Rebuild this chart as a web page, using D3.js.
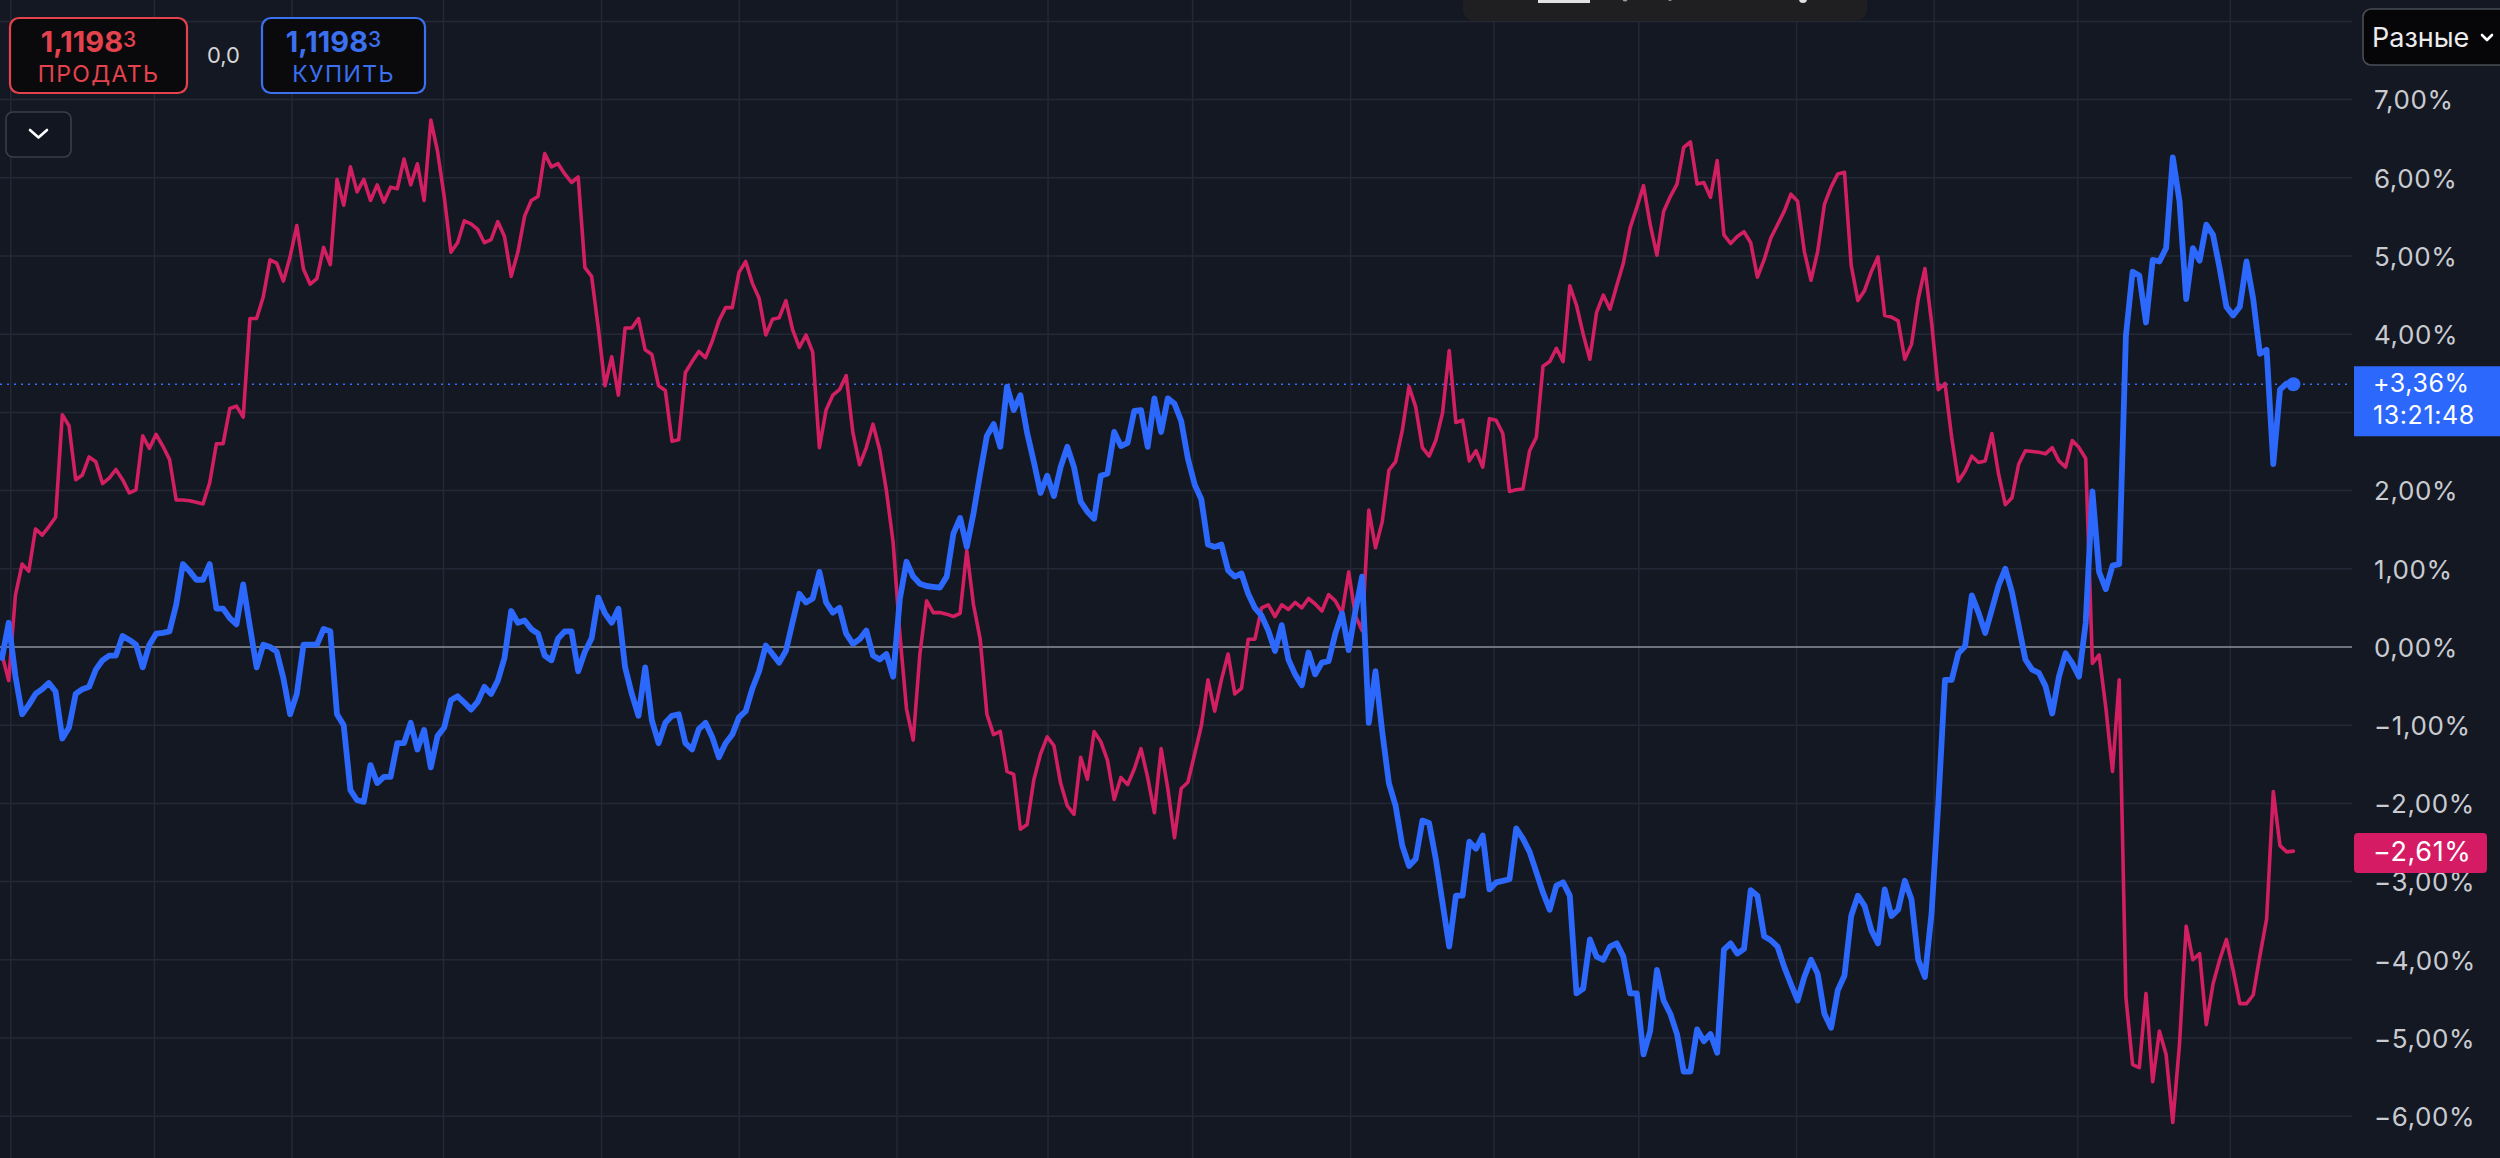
<!DOCTYPE html>
<html><head><meta charset="utf-8">
<script src="https://cdn.jsdelivr.net/npm/d3@7"></script>
<style>
html,body{margin:0;padding:0;background:#141823;overflow:hidden;}
svg{display:block;}
text{font-family:Inter,"Noto Sans",sans-serif;}
</style></head><body>
<svg id="chart" width="2500" height="1158"></svg>
<script>
// ---- data (percent change, same time index for both series) ----
const pinkValues = [
-0.10,-0.43,0.66,1.06,0.97,1.51,1.43,1.54,1.66,2.97,
2.83,2.14,2.20,2.43,2.37,2.09,2.16,2.27,2.14,1.97,
2.01,2.70,2.54,2.72,2.57,2.40,1.88,1.88,1.87,1.85,
1.83,2.10,2.60,2.60,3.05,3.08,2.94,4.20,4.20,4.48,
4.95,4.91,4.68,4.99,5.39,4.83,4.64,4.71,5.11,4.89,
5.98,5.65,6.14,5.82,5.98,5.71,5.91,5.69,5.88,5.86,
6.24,5.91,6.18,5.71,6.74,6.34,5.76,5.05,5.17,5.45,
5.41,5.34,5.17,5.21,5.44,5.25,4.74,5.05,5.51,5.71,
5.76,6.31,6.14,6.18,6.05,5.94,6.01,4.85,4.74,4.08,
3.34,3.71,3.22,4.08,4.08,4.20,3.80,3.74,3.34,3.28,
2.63,2.65,3.51,3.65,3.78,3.70,3.91,4.17,4.34,4.34,
4.79,4.93,4.65,4.46,3.99,4.19,4.21,4.43,4.06,3.83,
3.99,3.77,2.55,3.03,3.22,3.29,3.47,2.74,2.33,2.55,
2.85,2.52,2.00,1.34,0.17,-0.79,-1.19,-0.09,0.59,0.44,
0.44,0.42,0.39,0.43,1.23,0.54,0.10,-0.86,-1.12,-1.08,
-1.59,-1.63,-2.33,-2.27,-1.70,-1.37,-1.15,-1.26,-1.74,-2.03,
-2.14,-1.41,-1.69,-1.08,-1.21,-1.45,-1.95,-1.67,-1.76,-1.56,
-1.30,-1.67,-2.12,-1.30,-1.81,-2.44,-1.81,-1.73,-1.37,-1.01,
-0.42,-0.82,-0.42,-0.09,-0.60,-0.53,0.10,0.10,0.50,0.54,
0.39,0.54,0.48,0.57,0.50,0.62,0.55,0.46,0.67,0.59,
0.43,0.96,0.40,0.21,1.75,1.27,1.60,2.26,2.37,2.77,
3.33,3.07,2.55,2.44,2.64,2.99,3.79,2.87,2.90,2.38,
2.51,2.30,2.92,2.90,2.73,1.99,2.01,2.02,2.51,2.68,
3.59,3.65,3.82,3.65,4.62,4.37,4.00,3.68,4.28,4.50,
4.32,4.62,4.91,5.36,5.62,5.90,5.40,5.01,5.57,5.76,
5.92,6.39,6.46,5.92,5.94,5.75,6.22,5.27,5.16,5.25,
5.31,5.17,4.73,4.95,5.23,5.40,5.57,5.79,5.70,5.06,
4.69,5.06,5.66,5.88,6.05,6.07,4.88,4.43,4.56,4.80,
4.99,4.24,4.22,4.17,3.68,3.87,4.45,4.84,4.15,3.29,
3.37,2.68,2.12,2.25,2.44,2.36,2.38,2.73,2.21,1.82,
1.91,2.34,2.51,2.50,2.49,2.47,2.55,2.38,2.30,2.64,
2.55,2.41,-0.21,-0.10,-0.77,-1.59,-0.42,-4.48,-5.34,-5.38,
-4.43,-5.56,-4.91,-5.21,-6.08,-5.08,-3.57,-4.00,-3.92,-4.83,
-4.31,-4.00,-3.74,-4.13,-4.56,-4.56,-4.45,-3.95,-3.48,-1.85,
-2.54,-2.62,-2.61];

const blueValues = [
-0.14,0.31,-0.37,-0.86,-0.74,-0.60,-0.54,-0.46,-0.57,-1.17,
-1.03,-0.60,-0.54,-0.51,-0.29,-0.17,-0.11,-0.11,0.14,0.09,
0.03,-0.26,0.03,0.17,0.18,0.20,0.54,1.06,0.97,0.86,
0.86,1.06,0.49,0.49,0.37,0.29,0.80,0.26,-0.26,0.03,
0.00,-0.06,-0.40,-0.86,-0.60,0.03,0.03,0.03,0.23,0.20,
-0.86,-1.00,-1.83,-1.96,-1.98,-1.51,-1.74,-1.66,-1.66,-1.23,
-1.23,-0.97,-1.31,-1.06,-1.54,-1.14,-1.03,-0.68,-0.63,-0.71,
-0.80,-0.70,-0.51,-0.60,-0.43,-0.14,0.46,0.31,0.34,0.23,
0.17,-0.11,-0.17,0.11,0.20,0.20,-0.31,-0.06,0.11,0.63,
0.43,0.31,0.49,-0.26,-0.60,-0.88,-0.26,-0.94,-1.23,-0.97,
-0.88,-0.86,-1.23,-1.31,-1.05,-0.97,-1.15,-1.41,-1.23,-1.12,
-0.90,-0.82,-0.53,-0.31,0.02,-0.09,-0.20,-0.05,0.32,0.68,
0.57,0.62,0.96,0.57,0.44,0.50,0.17,0.04,0.10,0.21,
-0.11,-0.16,-0.09,-0.38,0.61,1.09,0.90,0.81,0.78,0.77,
0.76,0.90,1.45,1.65,1.28,1.71,2.22,2.70,2.85,2.56,
3.33,3.03,3.22,2.74,2.37,1.97,2.19,1.93,2.30,2.56,
2.30,1.86,1.73,1.64,2.19,2.22,2.75,2.57,2.61,3.02,
3.03,2.56,3.18,2.75,3.18,3.11,2.89,2.41,2.08,1.89,
1.31,1.28,1.31,0.98,0.90,0.94,0.68,0.50,0.40,0.21,
-0.05,0.28,-0.16,-0.35,-0.49,-0.07,-0.35,-0.20,-0.18,0.17,
0.43,-0.04,0.46,0.90,-0.97,-0.31,-1.08,-1.74,-2.03,-2.54,
-2.80,-2.71,-2.22,-2.25,-2.71,-3.27,-3.83,-3.18,-3.18,-2.49,
-2.58,-2.41,-3.10,-3.01,-2.99,-2.97,-2.32,-2.45,-2.62,-2.88,
-3.14,-3.36,-3.05,-3.01,-3.18,-4.43,-4.37,-3.74,-3.96,-4.00,
-3.83,-3.79,-3.96,-4.43,-4.43,-5.21,-4.91,-4.13,-4.52,-4.69,
-4.95,-5.43,-5.43,-4.89,-5.04,-4.95,-5.19,-3.87,-3.79,-3.92,
-3.86,-3.11,-3.18,-3.70,-3.75,-3.83,-4.09,-4.31,-4.52,-4.22,
-4.00,-4.18,-4.69,-4.87,-4.39,-4.20,-3.44,-3.18,-3.31,-3.62,
-3.79,-3.10,-3.44,-3.36,-2.99,-3.23,-4.00,-4.22,-3.40,-2.00,
-0.42,-0.42,-0.08,0.01,0.66,0.44,0.18,0.48,0.79,1.00,
0.70,0.27,-0.16,-0.29,-0.33,-0.50,-0.85,-0.38,-0.08,-0.21,
-0.38,0.31,1.99,0.96,0.74,1.04,1.06,3.98,4.80,4.75,
4.15,4.95,4.93,5.10,6.26,5.70,4.45,5.10,4.94,5.40,
5.27,4.84,4.35,4.24,4.35,4.93,4.45,3.75,3.80,2.34,
3.29,3.37,3.36];

const yTickValues = [8,7,6,5,4,3,2,1,0,-1,-2,-3,-4,-5,-6,-7];
// 3,00% is hidden behind the current-value box in the reference
const yLabelValues = [7,6,5,4,2,1,0,-1,-2,-3,-4,-5,-6];
const timeGridTicks = [1.30,22.75,43.27,65.90,89.48,110.03,133.58,156.12,177.70,201.28,222.69,244.30,267.85,288.39,309.82,332.59];
const lastBlue = 3.36, lastPink = -2.61, lastTime = "13:21:48";
const sellPrice = "1,1198", sellPip = "3", sellLabel = "ПРОДАТЬ";
const buyPrice = "1,1198", buyPip = "3", buyLabel = "КУПИТЬ";
const spreadText = "0,0";
const compareMode = "Разные";

// ---- layout ----
const W = 2500, H = 1158;
const plotRight = 2352;
const BLUE = "#2c68fb", PINK = "#d21f62";
const svg = d3.select("#chart");

const x = d3.scaleLinear().domain([0, pinkValues.length - 1]).range([2, 2293.4]);
const y = d3.scaleLinear().domain([-6, 7]).range([1116.2, 99.6]);

const fmtAxis = v => (v < 0 ? "\u2212" : "") + Math.abs(v).toFixed(2).replace(".", ",") + "%";
const fmtSigned = v => (v < 0 ? "\u2212" : "+") + Math.abs(v).toFixed(2).replace(".", ",") + "%";

svg.append("rect").attr("width", W).attr("height", H).attr("fill", "#141823");

// grid
const grid = svg.append("g");
grid.selectAll("line.h").data(yTickValues.filter(d => d !== 0)).join("line")
  .attr("class", "h").attr("x1", 0).attr("x2", plotRight)
  .attr("y1", d => y(d)).attr("y2", d => y(d))
  .attr("stroke", "#242836").attr("stroke-width", 1.5);
grid.selectAll("line.v").data(timeGridTicks).join("line")
  .attr("class", "v").attr("x1", d => x(d)).attr("x2", d => x(d))
  .attr("y1", 0).attr("y2", H)
  .attr("stroke", "#242836").attr("stroke-width", 1.5);

// zero line
svg.append("line").attr("x1", 0).attr("x2", plotRight).attr("y1", y(0)).attr("y2", y(0))
  .attr("stroke", "#8d909a").attr("stroke-width", 1.6);

// last value dotted line
svg.append("line").attr("x1", 0).attr("x2", plotRight).attr("y1", y(lastBlue)).attr("y2", y(lastBlue))
  .attr("stroke", "#3a6ff5").attr("stroke-width", 1.6).attr("stroke-dasharray", "2 5");

// lines
const line = d3.line().x((d, i) => x(i)).y(d => y(d));
svg.append("path").datum(pinkValues).attr("d", line)
  .attr("fill", "none").attr("stroke", PINK).attr("stroke-width", 3.6)
  .attr("stroke-linejoin", "round").attr("stroke-linecap", "round");
svg.append("path").datum(blueValues).attr("d", line)
  .attr("fill", "none").attr("stroke", BLUE).attr("stroke-width", 5.8)
  .attr("stroke-linejoin", "round").attr("stroke-linecap", "round");
svg.append("circle").attr("cx", x(blueValues.length - 1)).attr("cy", y(lastBlue)).attr("r", 7).attr("fill", BLUE);

// right axis labels
const axisG = svg.append("g").attr("transform", `translate(2374,0)`)
  .call(d3.axisRight(y).tickValues(yLabelValues).tickFormat(fmtAxis).tickSize(0).tickPadding(0));
axisG.select(".domain").remove();
axisG.selectAll("text").attr("fill", "#c9cbd1").attr("font-size", 26).attr("letter-spacing", 0.6)
  .attr("font-family", "Inter, 'Noto Sans', sans-serif").attr("dy", "0.36em");

// value boxes
const by = y(lastBlue);
svg.append("rect").attr("x", 2354).attr("y", by - 18).attr("width", 160).attr("height", 70).attr("fill", "#2c68fb");
svg.append("text").attr("x", 2373).attr("y", by + 8).text(fmtSigned(lastBlue))
  .attr("fill", "#ffffff").attr("font-size", 25).attr("letter-spacing", 0.6);
svg.append("text").attr("x", 2373).attr("y", by + 40).text(lastTime)
  .attr("fill", "#ffffff").attr("font-size", 25).attr("letter-spacing", 0.6);

const py = y(lastPink);
svg.append("rect").attr("x", 2354).attr("y", py - 18).attr("width", 133).attr("height", 40).attr("rx", 4).attr("fill", "#d41b64");
svg.append("text").attr("x", 2373).attr("y", py + 10).text(fmtSigned(lastPink))
  .attr("fill", "#ffffff").attr("font-size", 27).attr("letter-spacing", 0.6);

// ---- top controls ----
function tradeButton(x0, w, color, price, pip, label) {
  const g = svg.append("g");
  g.append("rect").attr("x", x0).attr("y", 18).attr("width", w).attr("height", 75).attr("rx", 9)
    .attr("fill", "#0a0a0d").attr("stroke", color).attr("stroke-width", 2.2);
  const t = g.append("text").attr("x", x0 + w / 2 - 10).attr("y", 52).attr("text-anchor", "middle")
    .attr("fill", color).attr("font-size", 29).attr("font-weight", 700);
  t.append("tspan").text(price);
  t.append("tspan").text(pip).attr("font-size", 21).attr("font-weight", 500).attr("dy", -5);
  g.append("text").attr("x", x0 + w / 2).attr("y", 82).attr("text-anchor", "middle")
    .attr("fill", color).attr("font-size", 23).attr("letter-spacing", 1.4).text(label);
}
tradeButton(10, 177, "#e4434e", sellPrice, sellPip, sellLabel);
tradeButton(262, 163, "#3b70ef", buyPrice, buyPip, buyLabel);
svg.append("text").attr("x", 207).attr("y", 63).attr("fill", "#d6d6d8").attr("font-size", 22).text(spreadText);

// dropdown
svg.append("rect").attr("x", 6).attr("y", 112).attr("width", 65).attr("height", 45).attr("rx", 7)
  .attr("fill", "#121620").attr("stroke", "#3b3e48").attr("stroke-width", 1.6);
svg.append("path").attr("d", "M30,130 L38.5,137.5 L47,130").attr("fill", "none")
  .attr("stroke", "#ffffff").attr("stroke-width", 2.6).attr("stroke-linecap", "round").attr("stroke-linejoin", "round");

// compare mode button
svg.append("rect").attr("x", 2363).attr("y", 9).attr("width", 160).attr("height", 56).attr("rx", 8)
  .attr("fill", "#060608").attr("stroke", "#4a4d56").attr("stroke-width", 1.6);
svg.append("text").attr("x", 2372).attr("y", 47).attr("fill", "#ececee").attr("font-size", 27).text(compareMode);
svg.append("path").attr("d", "M2482,35 L2487,40 L2492,35").attr("fill", "none")
  .attr("stroke", "#ffffff").attr("stroke-width", 2.6).attr("stroke-linecap", "round").attr("stroke-linejoin", "round");

// top-center overlay panel (cut off at top)
svg.append("rect").attr("x", 1463).attr("y", -25).attr("width", 404).attr("height", 46).attr("rx", 12).attr("fill", "#1f1f22");
svg.append("rect").attr("x", 1538).attr("y", 0).attr("width", 52).attr("height", 3).attr("fill", "#e2e2e2");
svg.append("circle").attr("cx", 1625).attr("cy", -1).attr("r", 2.5).attr("fill", "#9a9a9a");
svg.append("circle").attr("cx", 1670).attr("cy", -1).attr("r", 2).attr("fill", "#9a9a9a");
svg.append("circle").attr("cx", 1803).attr("cy", -1).attr("r", 4).attr("fill", "#e0e0e0");
</script>
</body></html>
